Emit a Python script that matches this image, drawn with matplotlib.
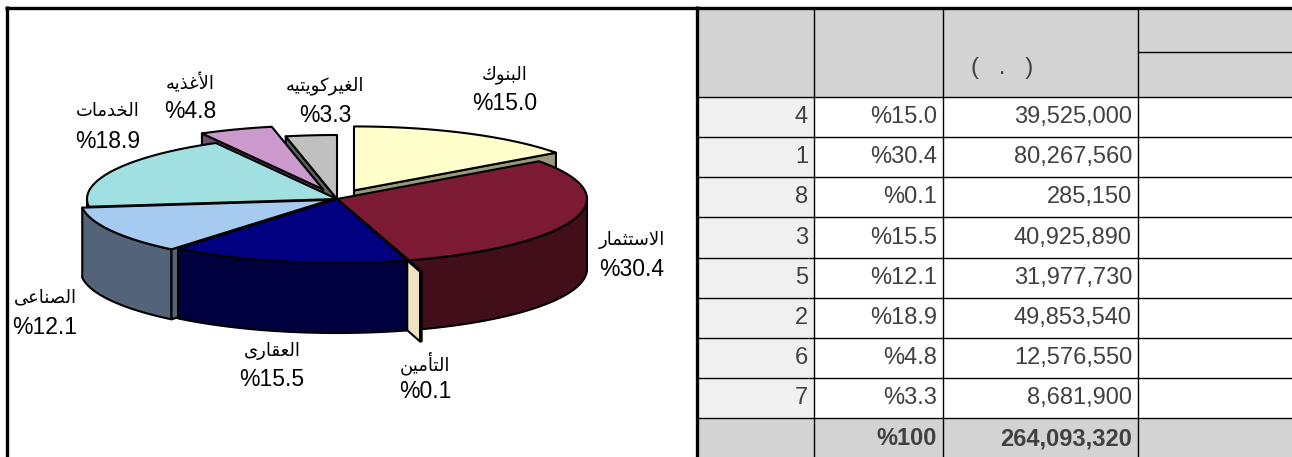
import numpy as np
import matplotlib
matplotlib.use("Agg")
import matplotlib.pyplot as plt
from matplotlib.patches import Polygon, Rectangle


# data
sectors = ["البنوك", "الاستثمار", "التأمين", "العقارى", "الصناعى", "الخدمات", "الأغذيه", "الغيركويتيه"]
amounts = [39525000, 80267560, 285150, 40925890, 31977730, 49853540, 12576550, 8681900]
ranks = [4, 1, 8, 3, 5, 2, 6, 7]

top_colors = ["#FFFFCC", "#7B1A32", "#F3E4C4", "#000080", "#A6CAF0", "#A0E0E0", "#CC99CC", "#C0C0C0"]
side_colors = ["#999978", "#420E1A", "#F0E2C2", "#00003F", "#536479", "#4F7070", "#6E4F6E", "#5F5F5F"]
explode = [0.15, 0.0, 0.18, 0.0, 0.03, 0.0, 0.16, 0.0]

# label centres (name line, pct line below it)
label_xy = [(505, 75), (632, 240), (425, 363), (272, 351), (45, 298), (108, 112), (190, 83), (325, 86)]

W, H = 1292, 457
CX, CY, RX, RY, DEPTH = 337, 199, 250, 64, 70
COLS = [697, 814, 943, 1138, 1292]
HEAD_TOP, HEAD_BOT, ROW_H = 9, 97, 40.15


# minimal arabic shaping (presentation forms, visual order)
AR_FORMS = {
    "ا": ("\ufe8d", "\ufe8e", None, None),
    "أ": ("\ufe83", "\ufe84", None, None),
    "ب": ("\ufe8f", "\ufe90", "\ufe91", "\ufe92"),
    "ت": ("\ufe95", "\ufe96", "\ufe97", "\ufe98"),
    "ث": ("\ufe99", "\ufe9a", "\ufe9b", "\ufe9c"),
    "خ": ("\ufea5", "\ufea6", "\ufea7", "\ufea8"),
    "د": ("\ufea9", "\ufeaa", None, None),
    "ذ": ("\ufeab", "\ufeac", None, None),
    "ر": ("\ufead", "\ufeae", None, None),
    "س": ("\ufeb1", "\ufeb2", "\ufeb3", "\ufeb4"),
    "ص": ("\ufeb9", "\ufeba", "\ufebb", "\ufebc"),
    "ع": ("\ufec9", "\ufeca", "\ufecb", "\ufecc"),
    "غ": ("\ufecd", "\ufece", "\ufecf", "\ufed0"),
    "ق": ("\ufed5", "\ufed6", "\ufed7", "\ufed8"),
    "ك": ("\ufed9", "\ufeda", "\ufedb", "\ufedc"),
    "ل": ("\ufedd", "\ufede", "\ufedf", "\ufee0"),
    "م": ("\ufee1", "\ufee2", "\ufee3", "\ufee4"),
    "ن": ("\ufee5", "\ufee6", "\ufee7", "\ufee8"),
    "ه": ("\ufee9", "\ufeea", "\ufeeb", "\ufeec"),
    "و": ("\ufeed", "\ufeee", None, None),
    "ى": ("\ufeef", "\ufef0", None, None),
    "ي": ("\ufef1", "\ufef2", "\ufef3", "\ufef4"),
}
LAM_ALEF = {"ا": ("\ufefb", "\ufefc"), "أ": ("\ufef7", "\ufef8")}


def joins_left(ch):
    return ch in AR_FORMS and AR_FORMS[ch][2] is not None


def ar(text):
    out = []
    i = 0
    n = len(text)
    while i < n:
        ch = text[i]
        if ch not in AR_FORMS:
            out.append(ch)
            i += 1
            continue
        jp = i > 0 and joins_left(text[i - 1])
        if ch == "ل" and i + 1 < n and text[i + 1] in LAM_ALEF:
            iso, fin = LAM_ALEF[text[i + 1]]
            out.append(fin if jp else iso)
            i += 2
            continue
        jn = joins_left(ch) and i + 1 < n and text[i + 1] in AR_FORMS
        iso, fin, ini, med = AR_FORMS[ch]
        if jp and jn:
            out.append(med)
        elif jp:
            out.append(fin)
        elif jn:
            out.append(ini)
        else:
            out.append(iso)
        i += 1
    return "".join(reversed(out))


def rim(cx, cy, t1, t2, n=90):
    t = np.radians(np.linspace(t1, t2, n))
    return np.column_stack([cx + RX * np.cos(t), cy - RY * np.sin(t)])


def draw_pie(ax):
    total = sum(amounts)
    spans = [360.0 * a / total for a in amounts]
    walls, tops = [], []
    start = 90.0
    for i, span in enumerate(spans):
        t1, t2 = start, start - span
        start = t2
        mid = np.radians((t1 + t2) / 2)
        cx = CX + explode[i] * RX * np.cos(mid)
        cy = CY - explode[i] * RY * np.sin(mid)
        down = np.array([0, DEPTH])

        # outer wall, front half only; depth key = how far toward the viewer
        hi, lo = min(t1, 0.0), max(t2, -180.0)
        if hi > lo:
            top = rim(cx, cy, hi, lo)
            poly = np.vstack([top, (top + down)[::-1]])
            walls.append((-np.sin(np.radians((hi + lo) / 2)), poly, side_colors[i]))

        # radial walls facing the viewer
        for t, visible in ((t1, np.cos(np.radians(t1)) < -1e-6), (t2, np.cos(np.radians(t2)) > 1e-6)):
            if not visible:
                continue
            c = np.array([cx, cy])
            e = rim(cx, cy, t, t, n=1)[0]
            poly = np.array([c, e, e + down, c + down])
            walls.append((-np.sin(np.radians(t)), poly, side_colors[i]))

        tops.append((cy, np.vstack([[cx, cy], rim(cx, cy, t1, t2)]), top_colors[i]))

    for _, poly, col in sorted(walls, key=lambda w: w[0]):
        ax.add_patch(Polygon(poly, closed=True, facecolor=col, edgecolor="black",
                             linewidth=1.5, joinstyle="round"))
    for _, poly, col in tops:
        ax.add_patch(Polygon(poly, closed=True, facecolor=col, edgecolor="black",
                             linewidth=1.5, joinstyle="round"))

    for name, amt, (x, y) in zip(sectors, amounts, label_xy):
        ax.text(x, y, ar(name), ha="center", va="center", fontsize=13, color="black")
        ax.text(x, y + 29, f"%{100 * amt / total:.1f}", ha="center", va="center",
                fontsize=16.5, color="black")


def draw_table(ax):
    total = sum(amounts)
    txt = "#404040"
    fs = 17
    n = len(amounts)
    row_top = [HEAD_BOT + k * ROW_H for k in range(n + 1)]

    # fills
    ax.add_patch(Rectangle((COLS[0], HEAD_TOP), COLS[-1] - COLS[0], HEAD_BOT - HEAD_TOP,
                           facecolor="#D3D3D3", edgecolor="none"))
    ax.add_patch(Rectangle((COLS[0], row_top[-1]), COLS[-1] - COLS[0], H - row_top[-1],
                           facecolor="#D3D3D3", edgecolor="none"))
    ax.add_patch(Rectangle((COLS[0], HEAD_BOT), COLS[1] - COLS[0], row_top[-1] - HEAD_BOT,
                           facecolor="#F0F0F0", edgecolor="none"))
    ax.text(1002, 68, "(   .   )", ha="center", va="center", fontsize=fs, color=txt)

    for k in range(n):
        yc = row_top[k] + ROW_H / 2
        ax.text(COLS[1] - 6, yc, str(ranks[k]), ha="right", va="center", fontsize=fs, color=txt)
        ax.text(COLS[2] - 6, yc, f"%{100 * amounts[k] / total:.1f}", ha="right", va="center",
                fontsize=fs, color=txt)
        ax.text(COLS[3] - 6, yc, f"{amounts[k]:,}", ha="right", va="center", fontsize=fs, color=txt)
    yc = (row_top[-1] + H) / 2 + 1
    ax.text(COLS[2] - 6, yc, "%100", ha="right", va="center", fontsize=fs, color=txt, fontweight="bold")
    ax.text(COLS[3] - 6, yc, f"{total:,}", ha="right", va="center", fontsize=fs, color=txt,
            fontweight="bold")

    # grid
    for y in [HEAD_BOT] + row_top[1:]:
        ax.plot([COLS[0], COLS[-1]], [y, y], color="black", lw=1.0)
    ax.plot([COLS[3], COLS[4]], [52, 52], color="black", lw=1.0)
    for x in COLS[1:-1]:
        ax.plot([x, x], [HEAD_TOP, H], color="black", lw=1.0)


def main():
    plt.rcParams["font.family"] = ["Liberation Sans", "DejaVu Sans"]
    fig = plt.figure(figsize=(W / 100, H / 100), dpi=100)
    ax = fig.add_axes([0, 0, 1, 1])
    ax.set_xlim(0, W)
    ax.set_ylim(H, 0)
    ax.axis("off")

    draw_pie(ax)
    draw_table(ax)

    # outer frame
    ax.plot([5, W], [7.5, 7.5], color="black", lw=2.4, solid_capstyle="butt")
    ax.plot([6.5, 6.5], [6, H], color="black", lw=2.4, solid_capstyle="butt")
    ax.plot([696.5, 696.5], [6, H], color="black", lw=2.4, solid_capstyle="butt")

    fig.savefig("out.png", dpi=100)
    plt.close(fig)


if __name__ == "__main__":
    main()
